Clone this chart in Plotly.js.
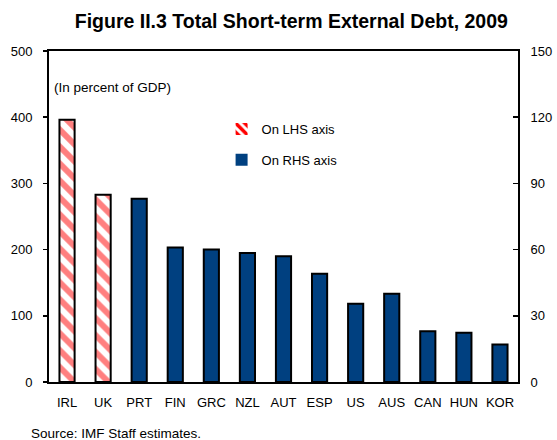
<!DOCTYPE html>
<html>
<head>
<meta charset="utf-8">
<script src="https://cdn.plot.ly/plotly-3.0.1.min.js"></script>
<style>
  html, body { margin: 0; padding: 0; background: #fff; }
  #chart { width: 557px; height: 440px; }
</style>
</head>
<body>
<div id="chart"></div>
<script>
// Data
const categories = ["IRL", "UK", "PRT", "FIN", "GRC", "NZL", "AUT", "ESP", "US", "AUS", "CAN", "HUN", "KOR"];
const lhsCountries = ["IRL", "UK"];
const lhsValues = [396, 283];            // percent of GDP, left axis
const rhsCountries = ["PRT", "FIN", "GRC", "NZL", "AUT", "ESP", "US", "AUS", "CAN", "HUN", "KOR"];
const rhsValues = [83, 61, 60, 58.5, 57, 49, 35.5, 40, 23, 22.3, 17]; // percent of GDP, right axis
const leftTicks = [0, 100, 200, 300, 400, 500];
const rightTicks = [0, 30, 60, 90, 120, 150];
const legendLabels = ["On LHS axis", "On RHS axis"];

const RED = "#ff0000";
const NAVY = "#004080";
const FONT = "Liberation Sans, Arial, sans-serif";

const traces = [
  {
    type: "bar",
    x: lhsCountries,
    y: lhsValues,
    yaxis: "y",
    width: 0.42,
    showlegend: false,
    hoverinfo: "x+y",
    marker: {
      color: "#ffffff",
      line: { color: "#000000", width: 2 },
      pattern: { shape: "\\", fgcolor: RED, bgcolor: "#ffffff", size: 12, solidity: 0.5, fillmode: "overlay" }
    }
  },
  {
    type: "bar",
    x: rhsCountries,
    y: rhsValues,
    yaxis: "y2",
    width: 0.42,
    showlegend: false,
    hoverinfo: "x+y",
    marker: { color: NAVY, line: { color: "#000000", width: 2 } }
  },
  {
    type: "bar",
    x: [null],
    y: [null],
    name: legendLabels[0],
    legend: "legend",
    showlegend: true,
    marker: {
      color: "#ffffff",
      line: { width: 0 },
      pattern: { shape: "\\", fgcolor: RED, bgcolor: "#ffffff", size: 8, solidity: 0.55 }
    }
  },
  {
    type: "bar",
    x: [null],
    y: [null],
    name: legendLabels[1],
    legend: "legend2",
    yaxis: "y2",
    showlegend: true,
    marker: { color: NAVY, line: { width: 0 } }
  }
];

const layout = {
  width: 557,
  height: 440,
  margin: { l: 49, r: 39, t: 51, b: 58 },
  paper_bgcolor: "#ffffff",
  plot_bgcolor: "#ffffff",
  font: { family: FONT, size: 13, color: "#000000" },
  barmode: "overlay",
  title: {
    text: "<b>Figure II.3 Total Short-term External Debt, 2009</b>",
    font: { family: FONT, size: 19.5, color: "#000000" },
    x: 0.523, xanchor: "center",
    y: 0.951, yanchor: "middle", yref: "container"
  },
  xaxis: {
    type: "category",
    categoryorder: "array",
    categoryarray: categories,
    range: [-0.5, categories.length - 0.5],
    showline: true, linecolor: "#000000", linewidth: 2, mirror: true,
    ticks: "", showgrid: false, zeroline: false,
    ticklabelstandoff: 7,
    tickfont: { family: FONT, size: 13, color: "#000000" },
    fixedrange: true
  },
  yaxis: {
    range: [0, 500],
    tickvals: leftTicks,
    showline: true, linecolor: "#000000", linewidth: 2,
    ticks: "outside", ticklen: 4, tickcolor: "#000000", tickwidth: 1.5,
    ticklabelstandoff: 8,
    showgrid: false, zeroline: false,
    tickfont: { family: FONT, size: 13, color: "#000000" },
    fixedrange: true
  },
  yaxis2: {
    range: [0, 150],
    tickvals: rightTicks,
    overlaying: "y",
    side: "right",
    showline: true, linecolor: "#000000", linewidth: 2,
    ticks: "inside", ticklen: 5, tickcolor: "#000000", tickwidth: 1.5,
    ticklabelstandoff: 8,
    showgrid: false, zeroline: false,
    tickfont: { family: FONT, size: 13, color: "#000000" },
    fixedrange: true
  },
  legend: {
    x: 0.368, y: 0.764, xanchor: "left", yanchor: "middle",
    bgcolor: "rgba(0,0,0,0)", borderwidth: 0,
    font: { family: FONT, size: 13, color: "#000000" },
    itemwidth: 30
  },
  legend2: {
    x: 0.368, y: 0.671, xanchor: "left", yanchor: "middle",
    bgcolor: "rgba(0,0,0,0)", borderwidth: 0,
    font: { family: FONT, size: 13, color: "#000000" },
    itemwidth: 30
  },
  annotations: [
    {
      text: "(In percent of GDP)",
      xref: "paper", yref: "paper",
      x: 0.006, y: 0.89, xanchor: "left", yanchor: "middle",
      showarrow: false,
      font: { family: FONT, size: 13.5, color: "#000000" }
    },
    {
      text: "Source: IMF Staff estimates.",
      xref: "paper", yref: "paper",
      x: -0.042, y: -0.155, xanchor: "left", yanchor: "middle",
      showarrow: false,
      font: { family: FONT, size: 13.5, color: "#000000" }
    }
  ]
};

Plotly.newPlot("chart", traces, layout, { displayModeBar: false, staticPlot: true });
</script>
</body>
</html>
